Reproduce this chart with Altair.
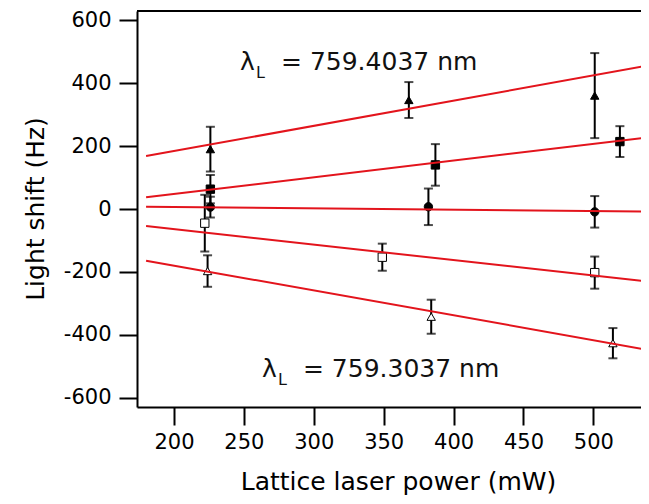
import altair as alt
import pandas as pd

# ---- data ----
series = ["759.4037 a", "759.4037 b", "mid", "759.3037 a", "759.3037 b"]
marker_shape = ["triangle-up", "square", "circle", "square", "triangle-up"]
marker_fill = ["black", "black", "black", "white", "white"]

power = [
    [226, 368, 501],
    [226, 387, 519],
    [226, 382, 501],
    [222, 349, 501],
    [224, 384, 514],
]
shift = [
    [190, 346, 360],
    [63, 140, 214],
    [6, 7, -9],
    [-45, -153, -202],
    [-197, -342, -426],
]
err = [
    [71, 57, 135],
    [45, 66, 49],
    [33, 58, 50],
    [90, 43, 51],
    [50, 54, 48],
]

# linear fits: value at the start and at the end of the drawn line
fit_power = [180, 540]
fit_start = [168, 37, 7, -54, -164]
fit_end = [456, 228, -8, -231, -448]

x_ticks = [200, 250, 300, 350, 400, 450, 500]
y_ticks = [-600, -400, -200, 0, 200, 400, 600]

ann_power = [247.2, 262.9]
ann_shift = [441, -533]
ann_rest = ["= 759.4037 nm", "= 759.3037 nm"]

# ---- tables ----
rows = []
for s, ps, ys, es in zip(series, power, shift, err):
    for p, y, e in zip(ps, ys, es):
        rows.append({"series": s, "power": p, "shift": y, "lo": y - e, "hi": y + e})
pts = pd.DataFrame(rows)

fit_rows = []
for s, a, b in zip(series, fit_start, fit_end):
    fit_rows.append({"series": s, "power": fit_power[0], "shift": a})
    fit_rows.append({"series": s, "power": fit_power[1], "shift": b})
fits = pd.DataFrame(fit_rows)

ann = pd.DataFrame({"power": ann_power, "shift": ann_shift, "rest": ann_rest,
                    "lam": ["λ", "λ"], "sub": ["L", "L"]})

W, H = 504, 396
FONT = "DejaVu Sans"
X_SCALE = alt.Scale(domain=[173.5, 534.1], nice=False, zero=False)
Y_SCALE = alt.Scale(domain=[-628.6, 628.6], nice=False, zero=False)
x_axis = alt.Axis(values=x_ticks, title="Lattice laser power (mW)", labelExpr="'' + datum.value",
                  labelPadding=6, titleX=261, titleY=82, titleAlign="center",
                  titleBaseline="alphabetic")
y_axis = alt.Axis(values=y_ticks, title="Light shift (Hz)", labelExpr="'' + datum.value",
                  labelPadding=8, titleX=-94, titleY=197.5, titleAlign="center",
                  titleBaseline="alphabetic", titleAngle=-90)


def X(f):
    return alt.X(f, type="quantitative", scale=X_SCALE, axis=x_axis)


def Y(f):
    return alt.Y(f, type="quantitative", scale=Y_SCALE, axis=y_axis)


base = alt.Chart(pts)

bars = base.mark_rule(color="black", strokeWidth=2).encode(x=X("power"), y=Y("lo"), y2="hi")
cap_lo = base.mark_tick(color="black", orient="horizontal", size=9, thickness=2).encode(
    x=X("power"), y=Y("lo"))
cap_hi = base.mark_tick(color="black", orient="horizontal", size=9, thickness=2).encode(
    x=X("power"), y=Y("hi"))

markers = base.mark_point(filled=True, stroke="black", strokeWidth=1, size=70, opacity=1).encode(
    x=X("power"), y=Y("shift"),
    shape=alt.Shape("series:N", scale=alt.Scale(domain=series, range=marker_shape), legend=None),
    fill=alt.Fill("series:N", scale=alt.Scale(domain=series, range=marker_fill), legend=None),
)

lines = alt.Chart(fits).mark_line(color="#e3141c", strokeWidth=2, clip=True).encode(
    x=X("power"), y=Y("shift"), detail="series:N")

top_border = alt.Chart(pts).mark_rule(color="black", strokeWidth=2).encode(
    x=alt.value(0), x2=alt.value(W), y=alt.value(0))

lam = alt.Chart(ann).mark_text(font=FONT, fontSize=25, align="left", baseline="alphabetic",
                               color="#111").encode(x=X("power"), y=Y("shift"), text="lam:N")
sub = alt.Chart(ann).mark_text(font=FONT, fontSize=16, align="left", baseline="alphabetic",
                               color="#111", dx=16, dy=8).encode(x=X("power"), y=Y("shift"), text="sub:N")
rest = alt.Chart(ann).mark_text(font=FONT, fontSize=25, align="left", baseline="alphabetic",
                                color="#111", dx=41).encode(x=X("power"), y=Y("shift"), text="rest:N")

chart = alt.layer(bars, cap_lo, cap_hi, markers, lines, top_border, lam, sub, rest).properties(
    width=W, height=H,
    autosize=alt.AutoSizeParams(type="none"),
    padding={"left": 129, "top": 3, "right": 0, "bottom": 89},
).configure_view(strokeWidth=0).configure_axis(
    domainColor="black", domainWidth=2, tickColor="black", tickWidth=2, tickSize=18,
    labelFont=FONT, labelFontSize=21, labelColor="black",
    titleFont=FONT, titleFontSize=25, titleFontWeight="normal", titleColor="black",
    grid=False,
)

chart.save("out.html", embed_options={"renderer": "svg", "actions": False})
